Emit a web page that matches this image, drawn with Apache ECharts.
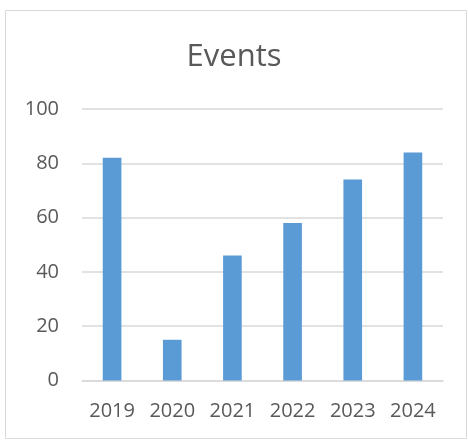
<!DOCTYPE html>
<html><head><meta charset="utf-8">
<script src="https://cdn.jsdelivr.net/npm/echarts@6/dist/echarts.min.js"></script>
<style>html,body{margin:0;padding:0;background:#fff}#c{width:468px;height:440px}</style>
</head><body><div id="c"></div>
<script>
const categories = ['2019','2020','2021','2022','2023','2024'];
const values = [82, 15, 46, 58, 74, 84];
const title = 'Events';
const chart = echarts.init(document.getElementById('c'));
const font = 'Open Sans';
chart.setOption({
  animation: false,
  backgroundColor: '#fff',
  graphic: [{type:'rect', shape:{x:5.5,y:10.5,width:461,height:428}, style:{fill:'none', stroke:'#d9d9d9', lineWidth:1}, silent:true}],
  title: {text: title, left: 'center', top: 37, textStyle:{fontFamily:font, fontSize:31, fontWeight:'normal', color:'#595959'}},
  grid: {left: 82, right: 25, top: 109, bottom: 59.5},
  xAxis: {type:'category', data: categories,
    axisLine:{lineStyle:{color:'#d9d9d9', width:1.5}}, axisTick:{show:false},
    axisLabel:{fontFamily:font, fontSize:20, color:'#595959', margin:21}},
  yAxis: {type:'value', min:0, max:100, interval:20,
    axisLine:{show:false}, axisTick:{show:false},
    splitLine:{lineStyle:{color:'#d9d9d9', width:1.5}},
    axisLabel:{fontFamily:font, fontSize:20, color:'#595959', margin:23}},
  series: [{type:'bar', data: values, barWidth:'31%', itemStyle:{color:'#5b9bd5'}}]
});
</script></body></html>
